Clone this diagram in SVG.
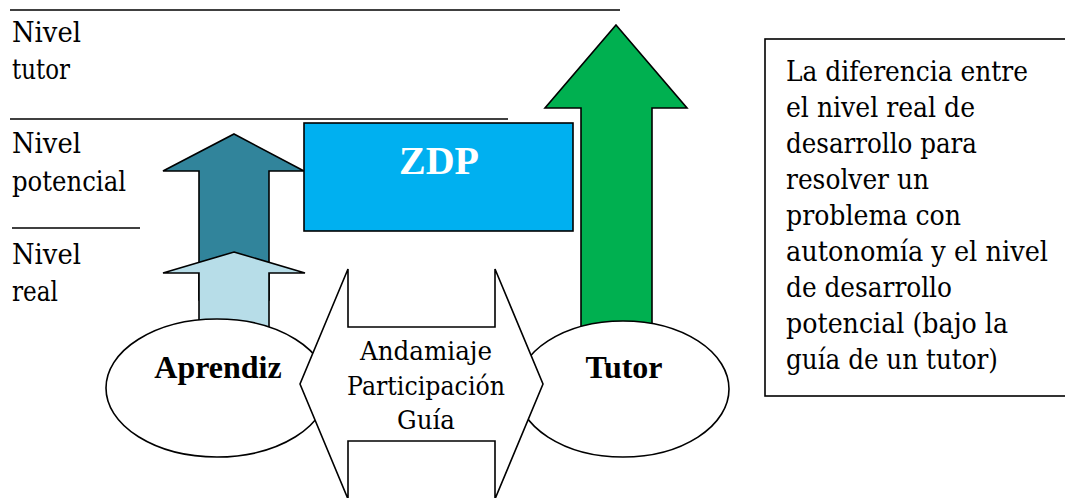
<svg xmlns="http://www.w3.org/2000/svg" width="1065" height="498" viewBox="0 0 1065 498">
<style>
.shape{stroke:#000;stroke-width:1.6;stroke-linejoin:miter}
.rule{stroke:#000;stroke-width:1.4}
</style>
<rect width="1065" height="498" fill="#fff"/>
<g id="levels">
<line class="rule" x1="10" y1="10" x2="620" y2="10"/>
<line class="rule" x1="10" y1="119" x2="508" y2="119"/>
<line class="rule" x1="12" y1="228" x2="140" y2="228"/>
<text x="12" y="42" font-family="DejaVu Serif, serif" font-size="27" fill="#000" textLength="69" lengthAdjust="spacingAndGlyphs">Nivel</text>
<text x="12" y="79" font-family="DejaVu Serif, serif" font-size="27" fill="#000" textLength="58" lengthAdjust="spacingAndGlyphs">tutor</text>
<text x="12" y="153" font-family="DejaVu Serif, serif" font-size="27" fill="#000" textLength="69" lengthAdjust="spacingAndGlyphs">Nivel</text>
<text x="12" y="191" font-family="DejaVu Serif, serif" font-size="27" fill="#000" textLength="114" lengthAdjust="spacingAndGlyphs">potencial</text>
<text x="12" y="264" font-family="DejaVu Serif, serif" font-size="27" fill="#000" textLength="69" lengthAdjust="spacingAndGlyphs">Nivel</text>
<text x="12" y="301" font-family="DejaVu Serif, serif" font-size="27" fill="#000" textLength="46" lengthAdjust="spacingAndGlyphs">real</text>
</g>
<g id="connectors">
<polygon id="arrow-potencial" class="shape" fill="#31849B" points="234,134 304,171 269,171 269,300 199,300 199,171 163,171"/>
<polygon id="arrow-real" class="shape" fill="#B7DDE8" points="234,252 305,273 269,273 269,340 199,340 199,273 163,273"/>
<polygon id="arrow-tutor" class="shape" fill="#00B050" points="616,25 687,108 652,108 652,340 581,340 581,108 545,108"/>
</g>
<g id="zdp">
<rect class="shape" x="304" y="123" width="269" height="108" fill="#00B0F0"/>
<text x="439" y="174" text-anchor="middle" font-family="Liberation Serif, serif" font-size="40" font-weight="bold" fill="#fff">ZDP</text>
</g>
<g id="aprendiz">
<ellipse class="shape" cx="217" cy="388" rx="111" ry="69" fill="#fff"/>
<text x="218" y="378" text-anchor="middle" font-family="Liberation Serif, serif" font-size="32" font-weight="bold" fill="#000">Aprendiz</text>
</g>
<g id="tutor">
<ellipse class="shape" cx="623" cy="389" rx="106" ry="68" fill="#fff"/>
<text x="624" y="378" text-anchor="middle" font-family="Liberation Serif, serif" font-size="32" font-weight="bold" fill="#000">Tutor</text>
</g>
<g id="andamiaje">
<polygon class="shape" fill="#fff" points="348,269 348,327 495,327 495,269 543,384 495,499 495,441 348,441 348,499 300,384"/>
<text x="426" y="360" text-anchor="middle" font-family="DejaVu Serif, serif" font-size="26" fill="#000" textLength="132" lengthAdjust="spacingAndGlyphs">Andamiaje</text>
<text x="426" y="395" text-anchor="middle" font-family="DejaVu Serif, serif" font-size="26" fill="#000" textLength="158" lengthAdjust="spacingAndGlyphs">Participación</text>
<text x="426" y="429" text-anchor="middle" font-family="DejaVu Serif, serif" font-size="26" fill="#000" textLength="58" lengthAdjust="spacingAndGlyphs">Guía</text>
</g>
<g id="definicion">
<rect class="shape" x="765" y="39" width="320" height="357" fill="#fff"/>
<text x="786" y="81" font-family="DejaVu Serif, serif" font-size="28" fill="#000" textLength="242" lengthAdjust="spacingAndGlyphs">La diferencia entre</text>
<text x="786" y="117" font-family="DejaVu Serif, serif" font-size="28" fill="#000" textLength="189" lengthAdjust="spacingAndGlyphs">el nivel real de</text>
<text x="786" y="153" font-family="DejaVu Serif, serif" font-size="28" fill="#000" textLength="191" lengthAdjust="spacingAndGlyphs">desarrollo para</text>
<text x="786" y="189" font-family="DejaVu Serif, serif" font-size="28" fill="#000" textLength="143" lengthAdjust="spacingAndGlyphs">resolver un</text>
<text x="786" y="225" font-family="DejaVu Serif, serif" font-size="28" fill="#000" textLength="175" lengthAdjust="spacingAndGlyphs">problema con</text>
<text x="786" y="261" font-family="DejaVu Serif, serif" font-size="28" fill="#000" textLength="262" lengthAdjust="spacingAndGlyphs">autonomía y el nivel</text>
<text x="786" y="297" font-family="DejaVu Serif, serif" font-size="28" fill="#000" textLength="166" lengthAdjust="spacingAndGlyphs">de desarrollo</text>
<text x="786" y="333" font-family="DejaVu Serif, serif" font-size="28" fill="#000" textLength="222" lengthAdjust="spacingAndGlyphs">potencial (bajo la</text>
<text x="786" y="369" font-family="DejaVu Serif, serif" font-size="28" fill="#000" textLength="212" lengthAdjust="spacingAndGlyphs">guía de un tutor)</text>
</g>
</svg>
